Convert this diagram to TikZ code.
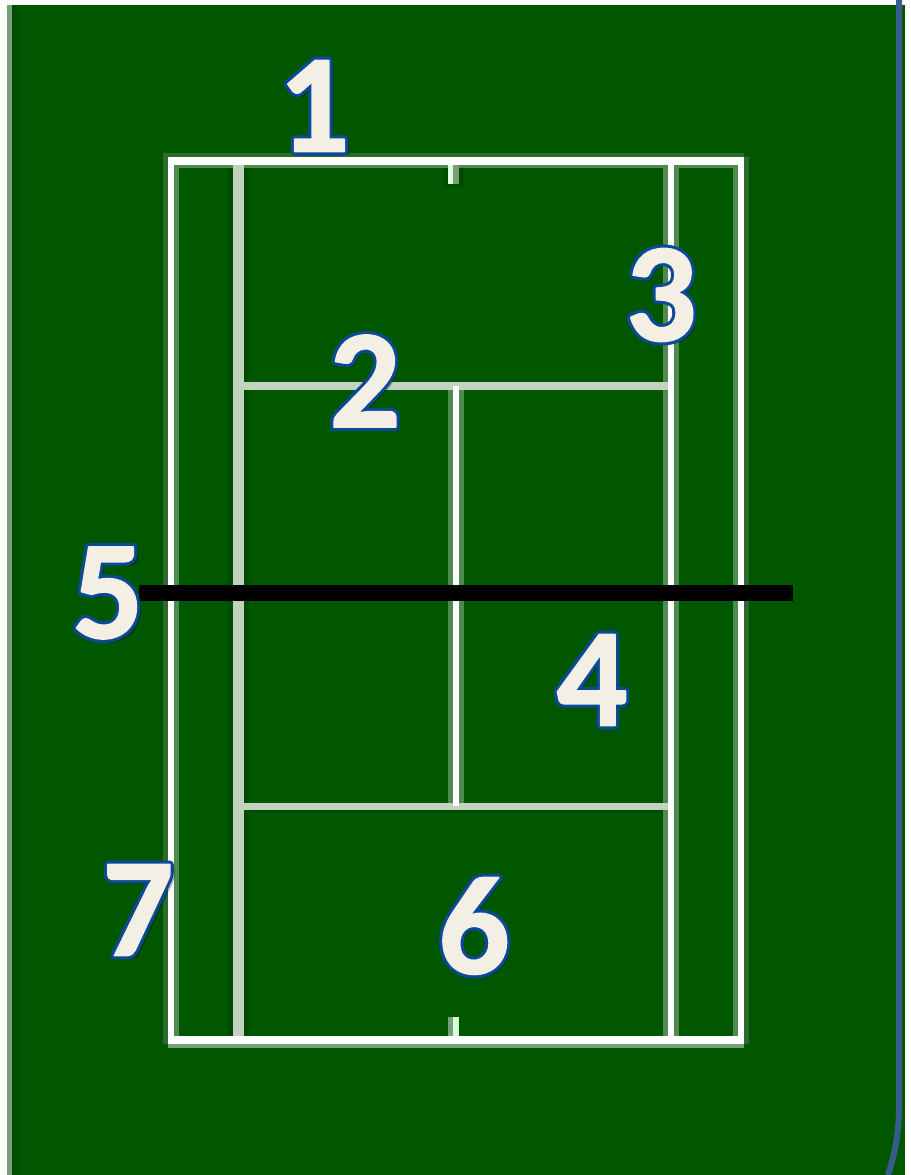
\documentclass[tikz,border=0pt]{standalone}
\usepackage{fontspec}
\setmainfont{Carlito}
\definecolor{grass}{HTML}{005700}
\definecolor{grassdark}{HTML}{004C00}
\definecolor{halo}{HTML}{2C6A2E}
\definecolor{paleline}{HTML}{4F8A50}
\definecolor{greyline}{HTML}{C3D2BF}
\definecolor{edgeline}{HTML}{7A9E7A}
\definecolor{frameblue}{HTML}{385D8A}
\definecolor{numfill}{HTML}{F3EFE4}
\newcommand{\numfont}{\fontsize{80}{80}\selectfont\bfseries}
% stroked copy of a digit, under the filled one
\newcommand{\numedge}[1]{\special{pdf:code q 1 j 2 Tr 4.4 w 0.043 0.29 0.6 RG 0.043 0.29 0.6 rg}#1\special{pdf:code Q}}
\newcommand{\numbody}[1]{\special{pdf:code q 1 j 2 Tr 0.9 w 0.953 0.937 0.894 RG 0.953 0.937 0.894 rg}#1\special{pdf:code Q}}
\tikzset{
  numlabel/.style={inner sep=0pt,anchor=center,text=numfill,font=\numfont},
  numdrop/.style={inner sep=0pt,anchor=center,text=black,text opacity=0.3,font=\numfont}
}
\begin{document}
\begin{tikzpicture}[x=0.02cm,y=-0.02cm]
\useasboundingbox (0,0) rectangle (911,1175);

%Ground
\fill[white] (0,0) rectangle (911,1175);
\fill[grass] (7,5) rectangle (905,1175);
\fill[grassdark] (12,5) rectangle (17,1175);
\fill[edgeline] (7,5) rectangle (12,1175);

%Blue frame on the right
\draw[frameblue,line width=3.4pt] (899,0) -- (899,1105) .. controls (899,1130) and (896,1150) .. (888,1175);

%Halo round the outer lines
\fill[halo] (163,153) rectangle (168,1044);
\fill[halo] (163,153) rectangle (744,157);
\fill[halo] (744,157) rectangle (749,1044);
\fill[edgeline] (168,1044) rectangle (744,1048);
\fill[paleline] (174,165) rectangle (179,1036);
\fill[paleline] (733,165) rectangle (738,1036);
\fill[paleline] (174,165) rectangle (738,168);

%Left alley line
\fill[grassdark] (227,168) rectangle (249,1036);
\fill[greyline] (233,165) rectangle (244,1036);

%Right alley line
\fill[paleline] (663,165) rectangle (679,1036);
\fill[white] (668,165) rectangle (674,1036);

%Service lines
\fill[greyline] (238,382) rectangle (668,390);
\fill[grassdark] (244,810) rectangle (663,813);
\fill[greyline] (238,803) rectangle (668,810);

%Centre line
\fill[paleline] (448,390) rectangle (464,803);
\fill[white] (453,386) rectangle (459,806);

%Centre marks
\fill[grassdark] (443,168) rectangle (464,188);
\fill[white!85!green] (448,165) rectangle (453,184);
\fill[edgeline] (453,165) rectangle (459,184);
\fill[edgeline] (448,1017) rectangle (453,1036);
\fill[white!85!green] (453,1017) rectangle (459,1036);

%Outer lines
\fill[white] (168,157) rectangle (174,1044);
\fill[white] (738,157) rectangle (744,1044);
\fill[white] (168,157) rectangle (744,165);
\fill[white] (168,1036) rectangle (744,1044);

%Net
\fill[black] (139,584.5) rectangle (793,601);

%Shadows of the numbers
\node[numdrop] (dropone) at (319,110) {1};
\node[numdrop] (droptwo) at (369,385) {2};
\node[numdrop] (dropthree) at (665,299) {3};
\node[numdrop] (dropfour) at (596,684) {4};
\node[numdrop] (dropfive) at (113,597) {5};
\node[numdrop] (dropsix) at (478,930) {6};
\node[numdrop] (dropseven) at (143,914) {7};

%Edges of the numbers
\node[numlabel] (edgeone) at (314,106) {\numedge{1}};
\node[numlabel] (edgetwo) at (365,381) {\numedge{2}};
\node[numlabel] (edgethree) at (661,295) {\numedge{3}};
\node[numlabel] (edgefour) at (592,680) {\numedge{4}};
\node[numlabel] (edgefive) at (108,593) {\numedge{5}};
\node[numlabel] (edgesix) at (474,926) {\numedge{6}};
\node[numlabel] (edgeseven) at (138,910) {\numedge{7}};

%Numbers
\node[numlabel] (one) at (314,106) {\numbody{1}};
\node[numlabel] (two) at (365,381) {\numbody{2}};
\node[numlabel] (three) at (661,295) {\numbody{3}};
\node[numlabel] (four) at (592,680) {\numbody{4}};
\node[numlabel] (five) at (108,593) {\numbody{5}};
\node[numlabel] (six) at (474,926) {\numbody{6}};
\node[numlabel] (seven) at (138,910) {\numbody{7}};

\end{tikzpicture}
\end{document}
